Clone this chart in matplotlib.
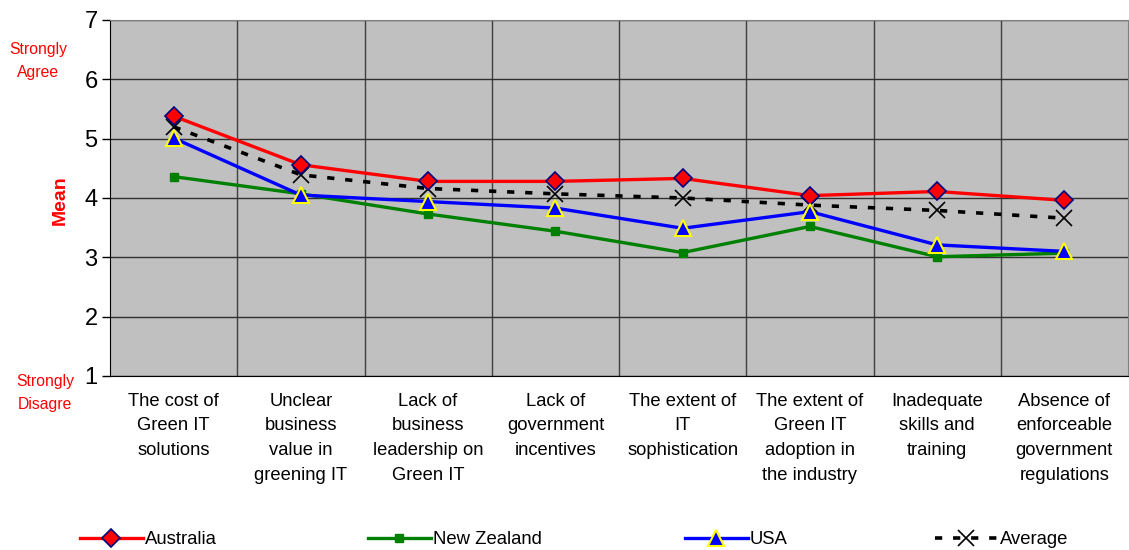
import numpy as np
import matplotlib.pyplot as plt
from matplotlib.ticker import FixedLocator

plt.rcParams['font.family'] = ['Liberation Sans', 'DejaVu Sans']

categories = [
    "The cost of\nGreen IT\nsolutions",
    "Unclear\nbusiness\nvalue in\ngreening IT",
    "Lack of\nbusiness\nleadership on\nGreen IT",
    "Lack of\ngovernment\nincentives",
    "The extent of\nIT\nsophistication",
    "The extent of\nGreen IT\nadoption in\nthe industry",
    "Inadequate\nskills and\ntraining",
    "Absence of\nenforceable\ngovernment\nregulations",
]
australia = [5.38, 4.56, 4.28, 4.28, 4.33, 4.04, 4.11, 3.96]
new_zealand = [4.36, 4.07, 3.73, 3.44, 3.08, 3.52, 3.01, 3.07]
usa = [5.01, 4.05, 3.94, 3.83, 3.49, 3.77, 3.21, 3.10]
average = [5.20, 4.39, 4.16, 4.07, 4.00, 3.88, 3.79, 3.66]

fig = plt.figure(figsize=(11.29, 5.5), dpi=100)
ax = fig.add_axes([110 / 1129, 1 - 376 / 550, 1018 / 1129, 356 / 550])
ax.set_facecolor('#c0c0c0')

x = np.arange(len(categories))
lines = []
lines += ax.plot(x, australia, color='red', lw=2.4, marker='D', ms=9,
                 mfc='red', mec='#000080', mew=1.2, label='Australia', zorder=4)
lines += ax.plot(x, new_zealand, color='green', lw=2.4, marker='s', ms=6,
                 mfc='green', mec='green', label='New Zealand', zorder=3)
lines += ax.plot(x, usa, color='blue', lw=2.4, marker='^', ms=11,
                 mfc='blue', mec='yellow', mew=1.5, label='USA', zorder=5)
lines += ax.plot(x, average, color='black', lw=2.6, ls=(0, (2, 3)), marker='x', ms=12,
                 mec='black', mew=1.2, label='Average', zorder=3)

ax.set_xlim(-0.5, len(categories) - 0.5)
ax.set_ylim(1, 7)
ax.set_yticks(range(1, 8))
ax.set_xticks(x)
ax.set_xticklabels(categories, fontsize=13.2, linespacing=1.6)
ax.xaxis.set_minor_locator(FixedLocator(np.arange(0.5, len(categories) - 0.5, 1)))
ax.tick_params(axis='x', which='major', length=0, pad=12)
ax.tick_params(axis='x', which='minor', length=0)
ax.tick_params(axis='y', labelsize=17, length=6, width=1, pad=3)
ax.grid(axis='y', which='major', color='#303030', lw=1)
ax.grid(axis='x', which='minor', color='#404040', lw=1)
ax.set_axisbelow(True)
for side in ['top', 'right']:
    ax.spines[side].set_color('#808080')
for side in ['left', 'bottom']:
    ax.spines[side].set_color('black')

fig.text(60 / 1129, 1 - 200 / 550, 'Mean', color='red', fontsize=14,
         fontweight='bold', rotation=90, ha='center', va='center')
fig.text(38 / 1129, 1 - 61 / 550, 'Strongly\nAgree', color='red', fontsize=11.3,
         ha='center', va='center', linespacing=1.6)
fig.text(45 / 1129, 1 - 393 / 550, 'Strongly\nDisagre', color='red', fontsize=11.3,
         ha='center', va='center', linespacing=1.6)

# Excel-style legend: entries spread evenly along the bottom
legend_x = [80, 368, 685, 935]
for line, lx in zip(lines, legend_x):
    fig.legend(handles=[line], loc='center left', bbox_to_anchor=(lx / 1129, 1 - 540 / 550),
               frameon=False, numpoints=1, handlelength=3.4, handletextpad=0.1,
               borderpad=0, borderaxespad=0, fontsize=13.3)

fig.savefig('out.png', dpi=100)
